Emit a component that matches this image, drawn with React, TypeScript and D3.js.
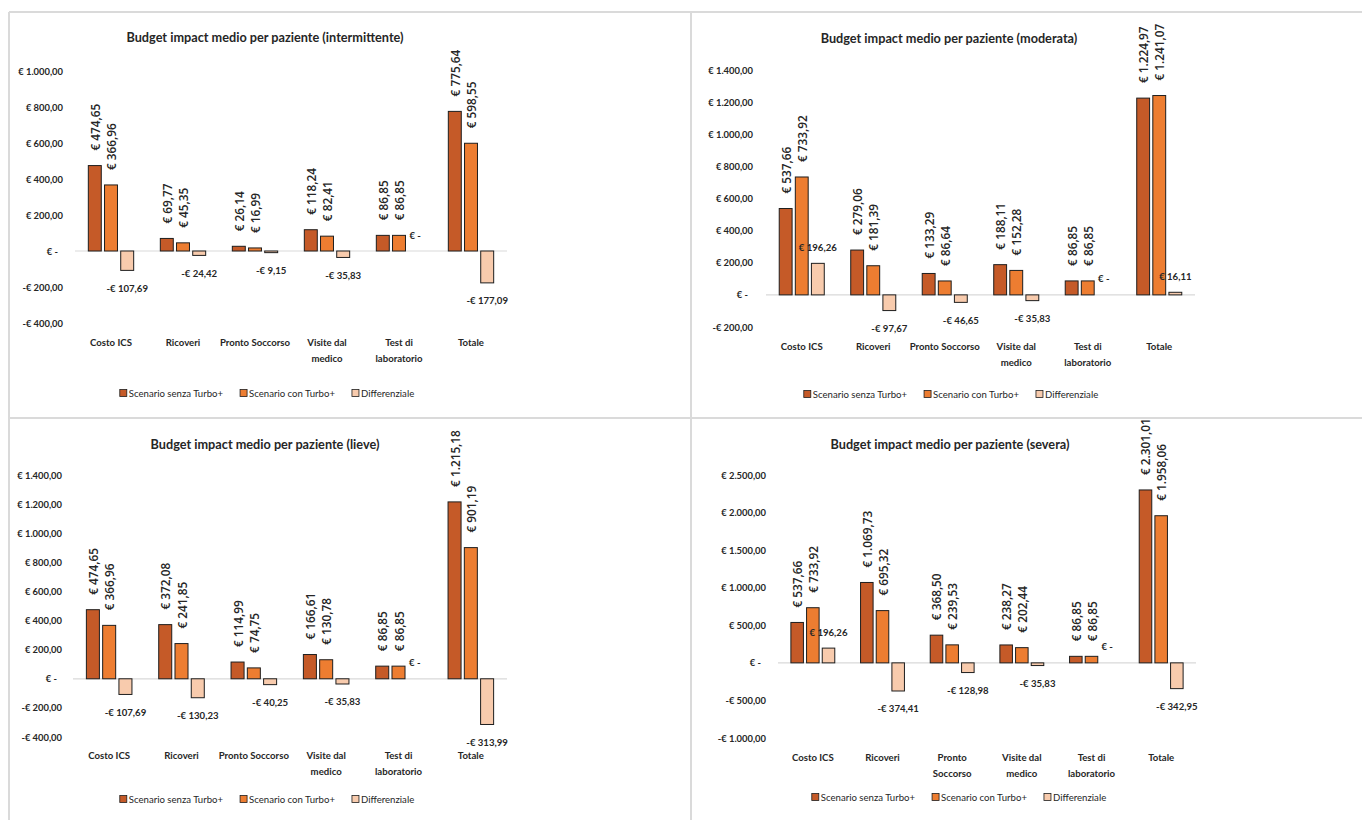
import React, { useEffect, useRef } from "react";
import * as d3 from "d3";

// ---------- data ----------
const categories = [
  "Costo ICS",
  "Ricoveri",
  "Pronto Soccorso",
  "Visite dal medico",
  "Test di laboratorio",
  "Totale",
];
const seriesNames = ["Scenario senza Turbo+", "Scenario con Turbo+", "Differenziale"];

const intermittenteSenza = [474.65, 69.77, 26.14, 118.24, 86.85, 775.64];
const intermittenteCon = [366.96, 45.35, 16.99, 82.41, 86.85, 598.55];
const intermittenteDiff = [-107.69, -24.42, -9.15, -35.83, 0, -177.09];

const moderataSenza = [537.66, 279.06, 133.29, 188.11, 86.85, 1224.97];
const moderataCon = [733.92, 181.39, 86.64, 152.28, 86.85, 1241.07];
const moderataDiff = [196.26, -97.67, -46.65, -35.83, 0, 16.11];

const lieveSenza = [474.65, 372.08, 114.99, 166.61, 86.85, 1215.18];
const lieveCon = [366.96, 241.85, 74.75, 130.78, 86.85, 901.19];
const lieveDiff = [-107.69, -130.23, -40.25, -35.83, 0, -313.99];

const severaSenza = [537.66, 1069.73, 368.5, 238.27, 86.85, 2301.01];
const severaCon = [733.92, 695.32, 239.53, 202.44, 86.85, 1958.06];
const severaDiff = [196.26, -374.41, -128.98, -35.83, 0, -342.95];

const ticksIntermittente = [-400, -200, 0, 200, 400, 600, 800, 1000];
const ticksModerata = [-200, 0, 200, 400, 600, 800, 1000, 1200, 1400];
const ticksLieve = [-400, -200, 0, 200, 400, 600, 800, 1000, 1200, 1400];
const ticksSevera = [-1000, -500, 0, 500, 1000, 1500, 2000, 2500];

const titles = [
  "Budget impact medio per paziente (intermittente)",
  "Budget impact medio per paziente (moderata)",
  "Budget impact medio per paziente (lieve)",
  "Budget impact medio per paziente (severa)",
];

// ---------- styles / layout ----------
const COLORS = ["#C55A28", "#ED7D31", "#F8CBAD"];
const FONT = "Lato, 'Open Sans', sans-serif";
const FONT_ROT = "'Open Sans', Lato, sans-serif";
const TEXT = "#262626";

const panels = [
  {
    title: titles[0],
    series: [intermittenteSenza, intermittenteCon, intermittenteDiff],
    ticks: ticksIntermittente,
    L: { plotLeft: 75, plotRight: 507, yTop: 71, yBottom: 323, labelRight: 63, titleX: 265, titleY: 37, catY: 342, legendX: 267, legendY: 393, wrapChars: 15 },
  },
  {
    title: titles[1],
    series: [moderataSenza, moderataCon, moderataDiff],
    ticks: ticksModerata,
    L: { plotLeft: 766, plotRight: 1195, yTop: 70, yBottom: 327, labelRight: 753, titleX: 949, titleY: 38, catY: 346, legendX: 951, legendY: 394, wrapChars: 15 },
  },
  {
    title: titles[2],
    series: [lieveSenza, lieveCon, lieveDiff],
    ticks: ticksLieve,
    L: { plotLeft: 73, plotRight: 507, yTop: 475, yBottom: 737, labelRight: 62, titleX: 265, titleY: 444, catY: 755, legendX: 267, legendY: 799, wrapChars: 15 },
  },
  {
    title: titles[3],
    series: [severaSenza, severaCon, severaDiff],
    ticks: ticksSevera,
    L: { plotLeft: 778, plotRight: 1196, yTop: 475, yBottom: 738, labelRight: 766, titleX: 950, titleY: 444, catY: 757, legendX: 959, legendY: 797, wrapChars: 14 },
  },
];

const locale = d3.formatLocale({ decimal: ",", thousands: ".", grouping: [3], currency: ["€ ", ""] });
const num = locale.format(",.2f");
const fmt = (v: number) => (v === 0 ? "€ -" : (v < 0 ? "-€ " : "€ ") + num(Math.abs(v)));

function wrap(label: string, maxChars: number): string[] {
  const words = label.split(" ");
  const lines: string[] = [];
  let cur = "";
  for (const w of words) {
    const t = cur ? cur + " " + w : w;
    if (t.length > maxChars && cur) {
      lines.push(cur);
      cur = w;
    } else cur = t;
  }
  if (cur) lines.push(cur);
  return lines;
}

export default function App() {
  const ref = useRef<SVGSVGElement | null>(null);

  useEffect(() => {
    const svg = d3.select(ref.current);
    svg.selectAll("*").remove();

    // panel frame lines
    const frame = svg.append("g").attr("stroke", "#dadada").attr("stroke-width", 2);
    frame.append("line").attr("x1", 9).attr("x2", 1362).attr("y1", 12).attr("y2", 12);
    frame.append("line").attr("x1", 9).attr("x2", 1362).attr("y1", 418).attr("y2", 418);
    frame.append("line").attr("x1", 9).attr("x2", 9).attr("y1", 12).attr("y2", 820);
    frame.append("line").attr("x1", 691).attr("x2", 691).attr("y1", 12).attr("y2", 820);

    panels.forEach((p) => {
      const L = p.L;
      const g = svg.append("g");
      const y = d3
        .scaleLinear()
        .domain([p.ticks[0], p.ticks[p.ticks.length - 1]])
        .range([L.yBottom, L.yTop]);
      const x0 = d3.scaleBand<string>().domain(categories).range([L.plotLeft, L.plotRight]).padding(0);
      const groupW = x0.bandwidth() * 0.63;
      const x1 = d3
        .scaleBand<string>()
        .domain(seriesNames)
        .range([(x0.bandwidth() - groupW) / 2, (x0.bandwidth() + groupW) / 2])
        .paddingInner(0.2)
        .paddingOuter(0);

      // title
      g.append("text")
        .attr("x", L.titleX)
        .attr("y", L.titleY)
        .attr("text-anchor", "middle")
        .attr("dominant-baseline", "central")
        .attr("font-family", FONT)
        .attr("font-weight", 700)
        .attr("font-size", 12.7)
        .attr("fill", TEXT)
        .text(p.title);

      // y tick labels
      g.selectAll(".tick")
        .data(p.ticks)
        .join("text")
        .attr("x", (d) => (d === 0 ? L.labelRight - 5 : L.labelRight))
        .attr("y", (d) => y(d))
        .attr("text-anchor", "end")
        .attr("dominant-baseline", "central")
        .attr("font-family", FONT)
        .attr("font-weight", 700)
        .attr("font-size", 9.4)
        .attr("fill", TEXT)
        .text((d) => fmt(d));

      // zero line
      g.append("line")
        .attr("x1", L.plotLeft)
        .attr("x2", L.plotRight)
        .attr("y1", y(0))
        .attr("y2", y(0))
        .attr("stroke", "#d9d9d9")
        .attr("stroke-width", 1.2);

      // bars
      p.series.forEach((vals, si) => {
        const name = seriesNames[si];
        const bg = g.append("g");
        bg.selectAll("rect")
          .data(vals.map((v, i) => ({ v, c: categories[i] })))
          .join("rect")
          .attr("x", (d) => (x0(d.c) as number) + (x1(name) as number))
          .attr("width", x1.bandwidth())
          .attr("y", (d) => Math.min(y(d.v), y(0)))
          .attr("height", (d) => Math.abs(y(d.v) - y(0)))
          .attr("fill", COLORS[si])
          .attr("stroke", (d) => (d.v === 0 ? "none" : "#1e1e1e"))
          .attr("stroke-width", 1);

        const cx = (c: string) => (x0(c) as number) + (x1(name) as number) + x1.bandwidth() / 2;
        const lbl = bg
          .selectAll("text")
          .data(vals.map((v, i) => ({ v, c: categories[i] })))
          .join("text")
          .attr("font-weight", si < 2 ? 600 : 700)
          .attr("font-family", si < 2 ? FONT_ROT : FONT)
          .attr("font-size", si < 2 ? 11.8 : 9.6)
          .attr("fill", TEXT)
          .text((d) => fmt(d.v));
        if (si < 2) {
          lbl
            .attr("transform", (d) => `translate(${cx(d.c)},${y(d.v) - 15}) rotate(-90)`)
            .attr("text-anchor", "start")
            .attr("dominant-baseline", "central");
        } else {
          lbl
            .attr("x", (d) => cx(d.c))
            .attr("y", (d) => (d.v >= 0 ? y(d.v) - 16 : y(d.v) + 18))
            .attr("text-anchor", "middle")
            .attr("dominant-baseline", "central");
        }
      });

      // category labels
      categories.forEach((c) => {
        const lines = wrap(c, L.wrapChars);
        const t = g
          .append("text")
          .attr("text-anchor", "middle")
          .attr("font-family", FONT)
          .attr("font-weight", 700)
          .attr("font-size", 9.6)
          .attr("fill", TEXT);
        lines.forEach((ln, li) => {
          t.append("tspan")
            .attr("x", (x0(c) as number) + x0.bandwidth() / 2)
            .attr("y", L.catY + li * 16)
            .attr("dominant-baseline", "central")
            .text(ln);
        });
      });

      // legend
      const lg = g.append("g");
      const items = seriesNames.map((s, i) => {
        const it = lg.append("g");
        it.append("rect")
          .attr("x", 0)
          .attr("y", -3.5)
          .attr("width", 7)
          .attr("height", 7)
          .attr("fill", COLORS[i])
          .attr("stroke", "#1e1e1e")
          .attr("stroke-width", 0.8);
        const tx = it
          .append("text")
          .attr("x", 9)
          .attr("y", 0)
          .attr("dominant-baseline", "central")
          .attr("font-family", FONT)
          .attr("font-size", 9.6)
          .attr("fill", TEXT)
          .text(s);
        const w = 9 + (tx.node() as SVGTextElement).getComputedTextLength();
        return { it, w };
      });
      const gap = 17;
      const total = d3.sum(items, (d) => d.w) + gap * (items.length - 1);
      let cxp = L.legendX - total / 2;
      items.forEach((d) => {
        d.it.attr("transform", `translate(${cxp},${L.legendY})`);
        cxp += d.w + gap;
      });
    });
  }, []);

  return (
    <svg
      ref={ref}
      width={1362}
      height={820}
      style={{ position: "absolute", left: 0, top: 0, background: "#ffffff" }}
    />
  );
}
